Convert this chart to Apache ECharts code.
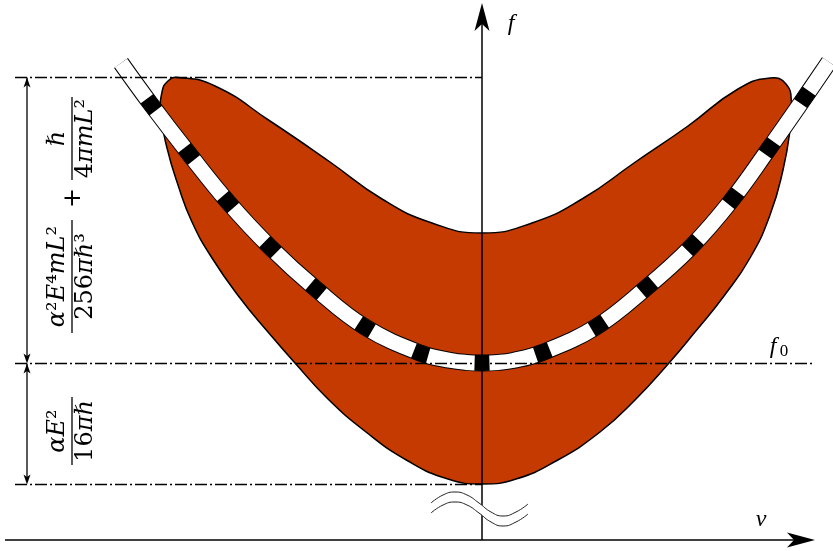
<!DOCTYPE html>
<html>
<head>
<meta charset="utf-8">
<script src="https://cdn.jsdelivr.net/npm/echarts@6/dist/echarts.min.js"></script>
<style>
html, body { margin: 0; padding: 0; background: #fff; }
#chart { width: 833px; height: 551px; }
</style>
</head>
<body>
<div id="chart"></div>
<script>
// ---- data (v = horizontal, f = vertical) ----
var vRange = [-4.82, 3.51];
var fRange = [-0.11, 5.40];

// the two axes: [vFrom, fFrom, vTip, fTip]
var axesData = [[-4.77, 0, 3.33, 0], [0, 0, 0, 5.37]];

// dash-dot guide lines
var guideTop = [[-4.67, 4.625], [0, 4.625]];
var guideF0 = [[-4.67, 1.765], [3.33, 1.765]];
var guideLow = [[-4.67, 0.555], [0, 0.555]];

// double arrows on the left: [v, fFrom, fTo]
var dimArrows = [[-4.55, 4.625, 1.765], [-4.55, 1.765, 0.555]];

// outline of the red region, clockwise from the left top
var bodyOutline = [
  [-3.04, 4.625], [-2.67, 4.54], [-2.12, 4.19], [-1.52, 3.78], [-1.00, 3.41],
  [-0.50, 3.17], [0, 3.07], [0.50, 3.17], [1.00, 3.41], [1.52, 3.77],
  [2.06, 4.14], [2.56, 4.51], [2.88, 4.62], [3.04, 4.56], [3.095, 4.37],
  [3.08, 4.10], [3.01, 3.70], [2.88, 3.25], [2.68, 2.82], [2.42, 2.44],
  [2.13, 2.08], [1.87, 1.77], [1.54, 1.41], [1.18, 1.08], [0.74, 0.79],
  [0.34, 0.61], [0, 0.56], [-0.34, 0.61], [-0.74, 0.79], [-1.16, 1.08],
  [-1.54, 1.41], [-1.87, 1.77], [-2.14, 2.08], [-2.42, 2.42], [-2.70, 2.82],
  [-2.90, 3.18], [-3.04, 3.55], [-3.15, 3.92], [-3.21, 4.25], [-3.20, 4.48],
  [-3.14, 4.59]
];

// centre line of the dashed band, each half starting at the vertex
var bandLeft = [
  [0, 1.77], [-0.16, 1.776], [-0.31, 1.795], [-0.62, 1.87], [-1.17, 2.13],
  [-1.66, 2.51], [-2.12, 2.93], [-2.54, 3.38], [-2.92, 3.85], [-3.32, 4.37], [-3.61, 4.77]
];
var bandRight = [
  [0, 1.77], [0.16, 1.776], [0.31, 1.795], [0.59, 1.87], [1.14, 2.13],
  [1.64, 2.52], [2.09, 2.93], [2.49, 3.39], [2.86, 3.90], [3.21, 4.40], [3.47, 4.78]
];
var bandFull = bandLeft.slice(1).reverse().concat(bandRight);

// axis break wave
var breakWave = [
  [-0.51, 0.37], [-0.39, 0.45], [-0.27, 0.48], [-0.15, 0.45], [-0.03, 0.37],
  [0.09, 0.28], [0.21, 0.24], [0.34, 0.28], [0.46, 0.36]
];

var SERIF = '"Liberation Serif", "DejaVu Serif", serif';
var MATH = '"DejaVu Serif", serif';
var RED = '#c53a00';
var FS = 24;
var RICH = {
  i: { fontFamily: MATH, fontStyle: 'italic', fontSize: FS, fill: '#000' },
  n: { fontFamily: MATH, fontSize: FS, fill: '#000' }
};

function lineSeries(data, color, width, z, dash, offset, smooth) {
  return {
    type: 'line', data: data, symbol: 'none', showSymbol: false, silent: true,
    clip: false, smooth: smooth || false, z: z, animation: false,
    lineStyle: { color: color, width: width, type: dash || 'solid', dashOffset: offset || 0, cap: 'butt' }
  };
}

function arrowHead(tip, dir, len, half, notch) {
  var bx = tip[0] - dir[0] * len, by = tip[1] - dir[1] * len;
  var nx = -dir[1], ny = dir[0];
  return {
    type: 'polygon',
    shape: { points: [tip, [bx + nx * half, by + ny * half],
      [tip[0] - dir[0] * (len - notch), tip[1] - dir[1] * (len - notch)],
      [bx - nx * half, by - ny * half]] },
    style: { fill: '#000' }
  };
}

function arrowItem(a, b, width, len, half, notch, both) {
  var l = Math.sqrt((b[0] - a[0]) * (b[0] - a[0]) + (b[1] - a[1]) * (b[1] - a[1]));
  var d = [(b[0] - a[0]) / l, (b[1] - a[1]) / l];
  var kids = [
    { type: 'line', shape: { x1: a[0], y1: a[1], x2: b[0] - d[0] * len / 2, y2: b[1] - d[1] * len / 2 },
      style: { stroke: '#000', lineWidth: width } },
    arrowHead(b, d, len, half, notch)
  ];
  if (both) kids.push(arrowHead(a, [-d[0], -d[1]], len, half, notch));
  return { type: 'group', children: kids };
}

function fraction(cx, cy, len, num, den) {
  return {
    type: 'group', x: cx, y: cy, rotation: Math.PI / 2,
    children: [
      { type: 'line', shape: { x1: -len / 2, y1: 0, x2: len / 2, y2: 0 }, style: { stroke: '#000', lineWidth: 1.3 } },
      { type: 'text', x: 0, y: -2, style: { text: num, rich: RICH, fill: '#000', align: 'center', verticalAlign: 'bottom' } },
      { type: 'text', x: 0, y: 2, style: { text: den, rich: RICH, fill: '#000', align: 'center', verticalAlign: 'top' } }
    ]
  };
}

var chart = echarts.init(document.getElementById('chart'), null, { renderer: 'canvas' });

var axisCommon = {
  type: 'value',
  axisTick: { show: false }, axisLabel: { show: false }, splitLine: { show: false },
  axisLine: { show: false }
};

chart.setOption({
  animation: false,
  grid: { left: 0, right: 0, top: 0, bottom: 0 },
  xAxis: Object.assign({}, axisCommon, { min: vRange[0], max: vRange[1] }),
  yAxis: Object.assign({}, axisCommon, { min: fRange[0], max: fRange[1] }),
  series: [
    {
      type: 'custom', coordinateSystem: 'cartesian2d', z: 1, silent: true,
      data: [[0, 0]],
      renderItem: function (params, api) {
        var pts = bodyOutline.map(function (p) { return api.coord(p); });
        return { type: 'polygon', shape: { points: pts, smooth: 0.5 },
          style: { fill: RED, stroke: '#000', lineWidth: 1.5 } };
      }
    },
    lineSeries(bandFull, '#000', 17, 2, null, 0, 0.4),
    lineSeries(bandFull, '#fff', 15, 2, null, 0, 0.4),
    lineSeries(bandLeft, '#000', 16, 2, [15, 47], 7.5, 0.4),
    lineSeries(bandRight, '#000', 16, 2, [15, 47], 7.5, 0.4),
    lineSeries(guideTop, '#000', 1.3, 3, [12, 3, 2, 3], 0),
    lineSeries(guideF0, '#000', 1.3, 3, [12, 3, 2, 3], 0),
    lineSeries(guideLow, '#000', 1.3, 3, [12, 3, 2, 3], 0),
    {
      type: 'custom', coordinateSystem: 'cartesian2d', z: 3, silent: true,
      data: dimArrows, encode: { x: 0, y: [1, 2] },
      renderItem: function (params, api) {
        var a = api.coord([api.value(0), api.value(1)]);
        var b = api.coord([api.value(0), api.value(2)]);
        return arrowItem(a, b, 1.3, 10, 3.5, 2.5, true);
      }
    },
    {
      type: 'custom', coordinateSystem: 'cartesian2d', z: 4, silent: true,
      data: axesData, encode: { x: [0, 2], y: [1, 3] },
      renderItem: function (params, api) {
        var a = api.coord([api.value(0), api.value(1)]);
        var b = api.coord([api.value(2), api.value(3)]);
        return arrowItem(a, b, 1.5, 28, 7.5, 7, false);
      }
    },
    {
      type: 'custom', coordinateSystem: 'cartesian2d', z: 5, silent: true,
      data: [[0, 0]],
      renderItem: function (params, api) {
        var pts = breakWave.map(function (p) { return api.coord(p); });
        function shifted(dy) { return pts.map(function (p) { return [p[0], p[1] + dy]; }); }
        return { type: 'group', children: [
          { type: 'polyline', shape: { points: shifted(5), smooth: 0.5 }, style: { stroke: '#fff', lineWidth: 8, fill: null } },
          { type: 'polyline', shape: { points: shifted(0), smooth: 0.5 }, style: { stroke: '#222', lineWidth: 1, fill: null } },
          { type: 'polyline', shape: { points: shifted(10), smooth: 0.5 }, style: { stroke: '#222', lineWidth: 1, fill: null } }
        ] };
      }
    }
  ],
  graphic: [
    { type: 'text', x: 511, y: 24, z: 10, style: { text: 'f', fontFamily: SERIF, fontStyle: 'italic', fontSize: 24, fill: '#000', align: 'center', verticalAlign: 'middle' } },
    { type: 'text', x: 761, y: 520, z: 10, style: { text: 'v', fontFamily: SERIF, fontStyle: 'italic', fontSize: 24, fill: '#000', align: 'center', verticalAlign: 'middle' } },
    { type: 'text', x: 773, y: 347, z: 10, style: { text: 'f', fontFamily: SERIF, fontStyle: 'italic', fontSize: 24, fill: '#000', align: 'center', verticalAlign: 'middle' } },
    { type: 'text', x: 784, y: 352, z: 10, style: { text: '0', fontFamily: SERIF, fontSize: 17, fill: '#000', align: 'center', verticalAlign: 'middle' } },
    fraction(72, 138.5, 83, '{i|ℏ}', '{n|4}{i|πmL}{n|²}'),
    { type: 'text', x: 74, y: 198, rotation: Math.PI / 2, style: { text: '+', fontFamily: MATH, fontSize: FS, fill: '#000', align: 'center', verticalAlign: 'middle' } },
    fraction(72, 276.5, 113, '{i|α}{n|²}{i|E}{n|⁴}{i|mL}{n|²}', '{n|256}{i|πℏ}{n|³}'),
    fraction(72, 431, 68, '{i|αE}{n|²}', '{n|16}{i|πℏ}')
  ]
});
</script>
</body>
</html>
